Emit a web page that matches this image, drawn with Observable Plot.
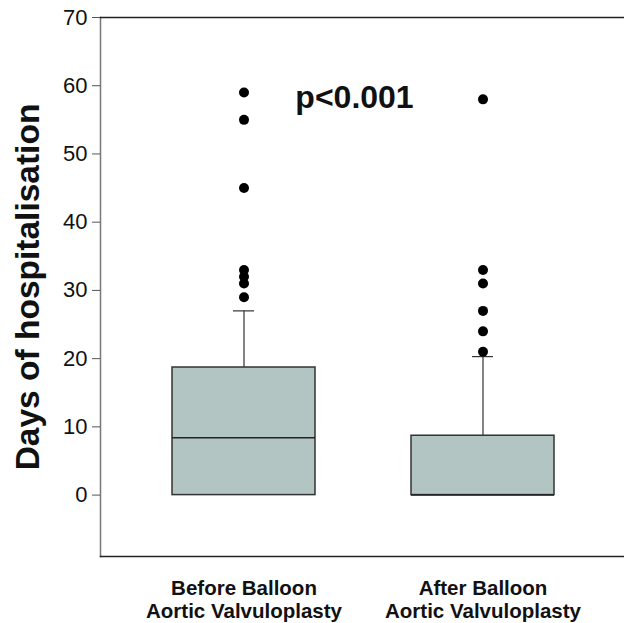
<!DOCTYPE html>
<html>
<head>
<meta charset="utf-8">
<script src="https://cdn.jsdelivr.net/npm/d3@7"></script>
<script src="https://cdn.jsdelivr.net/npm/@observablehq/plot@0.6"></script>
<style>
  html, body { margin: 0; padding: 0; background: #fff; overflow: hidden; }
  svg { display: block; }
</style>
</head>
<body>
<div id="chart"></div>
<script>
const groups = ["Before Balloon\nAortic Valvuloplasty", "After Balloon\nAortic Valvuloplasty"];
const q1 = [0, 0];
const medians = [8.4, 0];
const q3 = [18.7, 8.7];
const whiskerHigh = [27, 20.3];
const outliersBefore = [59, 55, 45, 33, 32, 31, 29];
const outliersAfter = [58, 33, 31, 27, 24, 21];
const yTicks = [0, 10, 20, 30, 40, 50, 60, 70];
const annotation = [{label: "p<0.001", y: 58.3}];

const boxes = groups.map((g, i) => ({group: g, q1: q1[i], median: medians[i], q3: q3[i], hi: whiskerHigh[i]}));
const outliers = [
  ...outliersBefore.map(v => ({group: groups[0], value: v})),
  ...outliersAfter.map(v => ({group: groups[1], value: v}))
];

const font = "'Liberation Sans', Arial, sans-serif";

const chart = Plot.plot({
  width: 624,
  height: 623,
  marginLeft: 100,
  marginRight: 0,
  marginTop: 17,
  marginBottom: 67,
  style: {fontFamily: font, background: "#fff"},
  x: {type: "band", domain: groups, range: [172, 555], paddingInner: 0.4, paddingOuter: 0},
  y: {domain: [-9, 70]},
  marks: [
    Plot.frame({anchor: "left", stroke: "#777", strokeWidth: 1.5}),
    Plot.frame({anchor: "top", stroke: "#222", strokeWidth: 1.5}),
    Plot.frame({anchor: "bottom", stroke: "#222", strokeWidth: 1.5}),
    Plot.axisY({ticks: yTicks, tickSize: 8, tickPadding: 5, fontSize: 22, label: null, stroke: "#555", fill: "#111"}),
    Plot.axisX({tickSize: 0, tickPadding: 22, fontSize: 20.5, fontWeight: "bold", label: null, lineHeight: 1.13, fill: "#111"}),
    Plot.text(["Days of hospitalisation"], {frameAnchor: "left", textAnchor: "middle", rotate: -90, dx: -72, fontSize: 33.5, fontWeight: "bold", fill: "#111"}),
    Plot.ruleX(boxes, {x: "group", y1: "q3", y2: "hi", stroke: "#333", strokeWidth: 1.2}),
    Plot.tickY(boxes, {x: "group", y: "hi", stroke: "#333", strokeWidth: 1.2, insetLeft: 61, insetRight: 61}),
    Plot.barY(boxes, {x: "group", y1: "q1", y2: "q3", fill: "#b3c5c2", stroke: "#333", strokeWidth: 1.5}),
    Plot.tickY(boxes, {x: "group", y: "median", stroke: "#222", strokeWidth: 1.5}),
    Plot.dot(outliers, {x: "group", y: "value", r: 5, fill: "#000", stroke: "none"}),
    Plot.text(annotation, {y: "y", text: "label", dx: -8, fontSize: 32, fontWeight: "bold", fill: "#111"})
  ]
});
document.getElementById("chart").appendChild(chart);
</script>
</body>
</html>
